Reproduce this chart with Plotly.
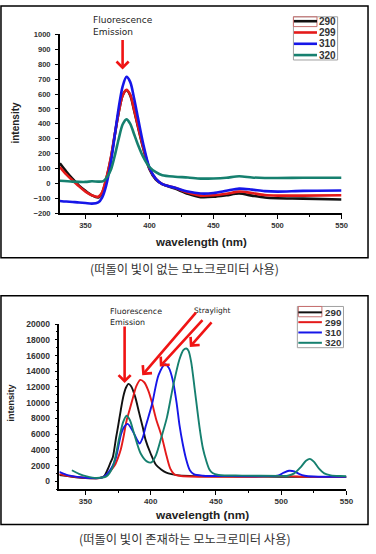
import plotly.graph_objects as go

W, H = 376, 554

# ---------------- data: top panel (no stray light) ----------------
series_names = ["290", "299", "310", "320"]
colors = ["#111111", "#e41a1a", "#1616e8", "#16806f"]

top_wl = [330, 335, 340, 345, 350, 355, 360, 363, 366, 370, 373, 376, 379, 382, 385, 388,
          391, 395, 400, 405, 410, 420, 430, 440, 450, 460, 470, 480, 490, 500, 520, 550]
top_290 = [135, 80, 30, -15, -50, -80, -95, -65, 20, 175, 330, 480, 590, 625, 590, 490,
           380, 240, 95, 25, -5, -35, -70, -92, -90, -80, -68, -82, -95, -100, -102, -108]
top_299 = [110, 60, 20, -20, -55, -80, -90, -60, 25, 180, 335, 480, 590, 628, 595, 495,
           385, 245, 100, 30, -5, -30, -62, -82, -80, -70, -55, -65, -78, -82, -82, -80]
top_310 = [-118, -122, -125, -128, -132, -136, -128, -95, -20, 150, 330, 510, 650, 715, 680, 570,
           440, 270, 105, 30, -5, -30, -55, -68, -65, -50, -35, -42, -52, -55, -50, -48]
top_320_wl = [330, 340, 350, 355, 360, 364, 367, 370, 373, 376, 379, 382, 385, 388, 391, 395,
              400, 405, 410, 420, 430, 440, 450, 460, 470, 480, 490, 500, 520, 550]
top_320 = [18, 12, 10, 14, 12, 15, 45, 95, 190, 300, 395, 430, 400, 330, 260, 180,
           110, 75, 55, 45, 40, 32, 33, 38, 48, 40, 36, 36, 38, 38]

# ---------------- data: bottom panel (with stray light) ----------------
bot_290_wl = [330, 335, 340, 345, 350, 355, 360, 364, 367, 369, 371, 373.5, 375, 377, 379, 381,
              383, 385, 388, 391, 394, 396, 400, 404, 408, 412, 416, 420, 430, 450, 480, 520, 550]
bot_290 = [800, 680, 570, 480, 420, 380, 390, 600, 1500, 2300, 3100, 5600, 7000, 9000, 10800, 11900,
           12400, 12100, 10800, 8800, 6800, 5300, 3500, 2100, 1500, 1100, 900, 780, 680, 620, 600, 550, 520]
bot_299_wl = [330, 335, 340, 345, 350, 355, 360, 364, 368, 371, 373, 375, 377, 379, 381.5, 384,
              386, 389, 392, 395, 398, 401, 404, 408.6, 412, 415, 418, 422, 430, 450, 480, 495,
              505, 520, 550]
bot_299 = [900, 720, 600, 500, 430, 390, 390, 550, 1100, 1700, 2200, 3000, 4000, 5500, 7700, 9200,
           10400, 12100, 12900, 12600, 11600, 10000, 8000, 5600, 3300, 1600, 900, 700, 600, 560, 580, 650,
           650, 560, 520]
bot_310_wl = [330, 335, 340, 345, 350, 355, 360, 364, 368, 371, 373.5, 377.3, 380, 382.3, 386, 389.8,
              391.5, 394, 396, 401, 406, 411, 414, 417, 420, 422, 424.5, 427, 430, 433, 440, 460,
              490, 498, 502, 506, 510, 514, 518, 525, 550]
bot_310 = [1200, 850, 650, 520, 450, 400, 400, 560, 1200, 2000, 3100, 6000, 7000, 7300, 6460, 5200,
           4800, 5600, 6900, 9800, 13500, 14900, 14400, 12800, 9800, 7200, 4800, 2900, 1400, 900, 700, 650,
           650, 750, 1100, 1330, 1250, 900, 700, 600, 560]
bot_320_wl = [339.6, 345, 351, 358.4, 366, 371, 376, 379, 381.5, 384, 387.3, 392.3, 397.3, 400.5,
              404, 408, 412.4, 417.4, 422, 425, 427.3, 429, 431, 433.6, 437.4, 440, 442.4, 445,
              447.4, 452, 470, 500, 505, 510, 515, 519, 522, 525, 529, 533, 538, 545, 550]
bot_320 = [1400, 950, 620, 420, 620, 1875, 5600, 7600, 8340, 7800, 6040, 3540, 2500, 2400,
           3300, 5500, 8100, 12300, 15500, 16700, 16900, 16600, 15200, 11900, 6900, 4200, 2700, 1500,
           1040, 800, 720, 680, 700, 1000, 1800, 2600, 2850, 2500, 1600, 1000, 750, 660, 640]

top_series = [(top_wl, top_290), (top_wl, top_299), (top_wl, top_310), (top_320_wl, top_320)]
bot_series = [(bot_290_wl, bot_290), (bot_299_wl, bot_299), (bot_310_wl, bot_310), (bot_320_wl, bot_320)]

cap_top = "(떠돌이 빛이 없는 모노크로미터 사용)"
cap_bot = "(떠돌이 빛이 존재하는 모노크로미터 사용)"


def PX(px):
    return px / W


def PY(py):
    return 1 - py / H


fig = go.Figure()
for (xs, ys), c in zip(top_series, colors):
    fig.add_trace(go.Scatter(x=xs, y=ys, mode="lines", xaxis="x", yaxis="y",
                             line=dict(color=c, width=2.6, shape="spline", smoothing=0.8),
                             showlegend=False, hoverinfo="skip"))
for (xs, ys), c in zip(bot_series, colors):
    fig.add_trace(go.Scatter(x=xs, y=ys, mode="lines", xaxis="x2", yaxis="y2",
                             line=dict(color=c, width=1.9, shape="spline", smoothing=0.8),
                             showlegend=False, hoverinfo="skip"))

tickfont_top = dict(family="Liberation Sans", size=7.6, color="#333333", weight="bold")
tickfont_botx = dict(family="Liberation Sans", size=8, color="#333333", weight="bold")
tickfont_boty = dict(family="Liberation Sans", size=8.5, color="#333333", weight="bold")

common_x = dict(range=[330, 550], dtick=50, tick0=0, showline=True, linecolor="black",
                linewidth=1.5, ticks="outside", ticklen=4, tickwidth=1, tickcolor="black",
                showgrid=False, zeroline=False, fixedrange=True,
                minor=dict(dtick=25, ticklen=2.5, ticks="outside", tickcolor="black"))
common_y = dict(showline=True, linecolor="black", linewidth=1.5, ticks="outside", ticklen=3,
                tickwidth=1, tickcolor="black", showgrid=False, zeroline=False, fixedrange=True,
                ticklabelstandoff=3, tickformat="d")

fig.update_layout(
    width=W, height=H, margin=dict(l=0, r=0, t=0, b=0),
    paper_bgcolor="white", plot_bgcolor="white", showlegend=False,
    xaxis=dict(domain=[PX(61), PX(348)], anchor="y", tickfont=tickfont_top, **common_x),
    yaxis=dict(domain=[PY(212), PY(30)], anchor="x", range=[-200, 1000], dtick=100, tick0=0,
               tickfont=tickfont_top, **common_y),
    xaxis2=dict(domain=[PX(60.5), PX(353)], anchor="y2", tickfont=tickfont_botx, **common_x),
    yaxis2=dict(domain=[PY(493), PY(325)], anchor="x2", range=[-1000, 20000], dtick=2000, tick0=0,
                tickfont=tickfont_boty,
                minor=dict(dtick=1000, ticklen=2, ticks="outside", tickcolor="black"), **common_y),
)

shapes = []
annotations = []

# panel frames
for y0, y1 in [(1, 257.5), (296, 529)]:
    shapes.append(dict(type="rect", xref="paper", yref="paper", x0=PX(1), x1=PX(375),
                       y0=PY(y1), y1=PY(y0), line=dict(color="black", width=1.5)))

# manual legends
def add_legend(box, rows, line_x, text_x, fsize, lw, sel_box):
    x0, y0, x1, y1 = box
    shapes.append(dict(type="rect", xref="paper", yref="paper", x0=PX(x0), x1=PX(x1),
                       y0=PY(y1), y1=PY(y0), line=dict(color="#a0a0a0", width=1),
                       fillcolor="white", layer="above"))
    sx0, sy0, sx1, sy1 = sel_box
    shapes.append(dict(type="rect", xref="paper", yref="paper", x0=PX(sx0), x1=PX(sx1),
                       y0=PY(sy1), y1=PY(sy0), line=dict(color="#c87070", width=1)))
    for name, c, ry in zip(series_names, colors, rows):
        shapes.append(dict(type="line", xref="paper", yref="paper", x0=PX(line_x[0]), x1=PX(line_x[1]),
                           y0=PY(ry), y1=PY(ry), line=dict(color=c, width=lw)))
        annotations.append(dict(text=name, xref="paper", yref="paper", x=PX(text_x), y=PY(ry),
                                xanchor="left", yanchor="middle", showarrow=False,
                                font=dict(family="Liberation Sans", size=fsize, color="#333333",
                                          weight="bold")))

add_legend((299, 12, 344, 56), [16.5, 28, 39.5, 51], (299.5, 323), 323.5, 10, 2.6, (299, 12, 323, 22))
add_legend((303, 307, 350, 349), [313, 323, 333.5, 344], (304, 328), 329.5, 9.8, 2, (304, 307, 328, 317.5))

# axis titles
def title(text, x, y, size, angle=0):
    annotations.append(dict(text=text, xref="paper", yref="paper", x=PX(x), y=PY(y),
                            xanchor="center", yanchor="middle", showarrow=False, textangle=angle,
                            font=dict(family="Liberation Sans", size=size, color="#222222",
                                      weight="bold")))

title("wavelength (nm)", 205, 241, 11.5)
title("intensity", 16, 120, 10, -90)
title("wavelength (nm)", 206, 519, 11.8)
title("intensity", 11, 405, 9, -90)

# captions
for txt, y in [(cap_top, 269), (cap_bot, 543.5)]:
    annotations.append(dict(text=txt, xref="paper", yref="paper", x=PX(188), y=PY(y),
                            xanchor="center", yanchor="middle", showarrow=False,
                            font=dict(family="Noto Sans CJK KR", size=12.3, color="#333333")))

# text labels on plots
def label(text, x, y, size):
    annotations.append(dict(text=text, xref="paper", yref="paper", x=PX(x), y=PY(y),
                            xanchor="left", yanchor="middle", showarrow=False,
                            font=dict(family="DejaVu Sans", size=size, color="#222222")))

label("Fluorescence", 92.5, 15, 9)
label("Emission", 92.5, 27, 9)
label("Fluorescence", 110.5, 312, 7.9)
label("Emission", 110.5, 323, 7.9)
label("Straylight", 195.5, 311, 7.5)

# arrows (tip in data coords, tail offset in px)
def arrow(xref, yref, x, y, ax, ay, width):
    annotations.append(dict(text="", xref=xref, yref=yref, x=x, y=y, ax=ax, ay=ay,
                            showarrow=True, arrowhead=4, arrowsize=0.9, arrowwidth=width,
                            arrowcolor="#f01414", standoff=0))

arrow("x", "y", 379, 765, 0, -31, 2.6)
arrow("x2", "y2", 380, 12500, 0, -58, 2.6)
arrow("x2", "y2", 393.5, 13500, 55, -64, 2.6)
arrow("x2", "y2", 407, 14600, 44, -48, 2.6)
arrow("x2", "y2", 430, 17100, 23, -26, 2.6)

fig.update_layout(shapes=shapes, annotations=annotations)
fig.write_html("out.html", config={"displayModeBar": False},
               post_script=("document.body.style.margin='0';document.body.style.padding='0';"
                            "document.body.style.overflow='hidden';"
                            "document.documentElement.style.overflow='hidden';"))
